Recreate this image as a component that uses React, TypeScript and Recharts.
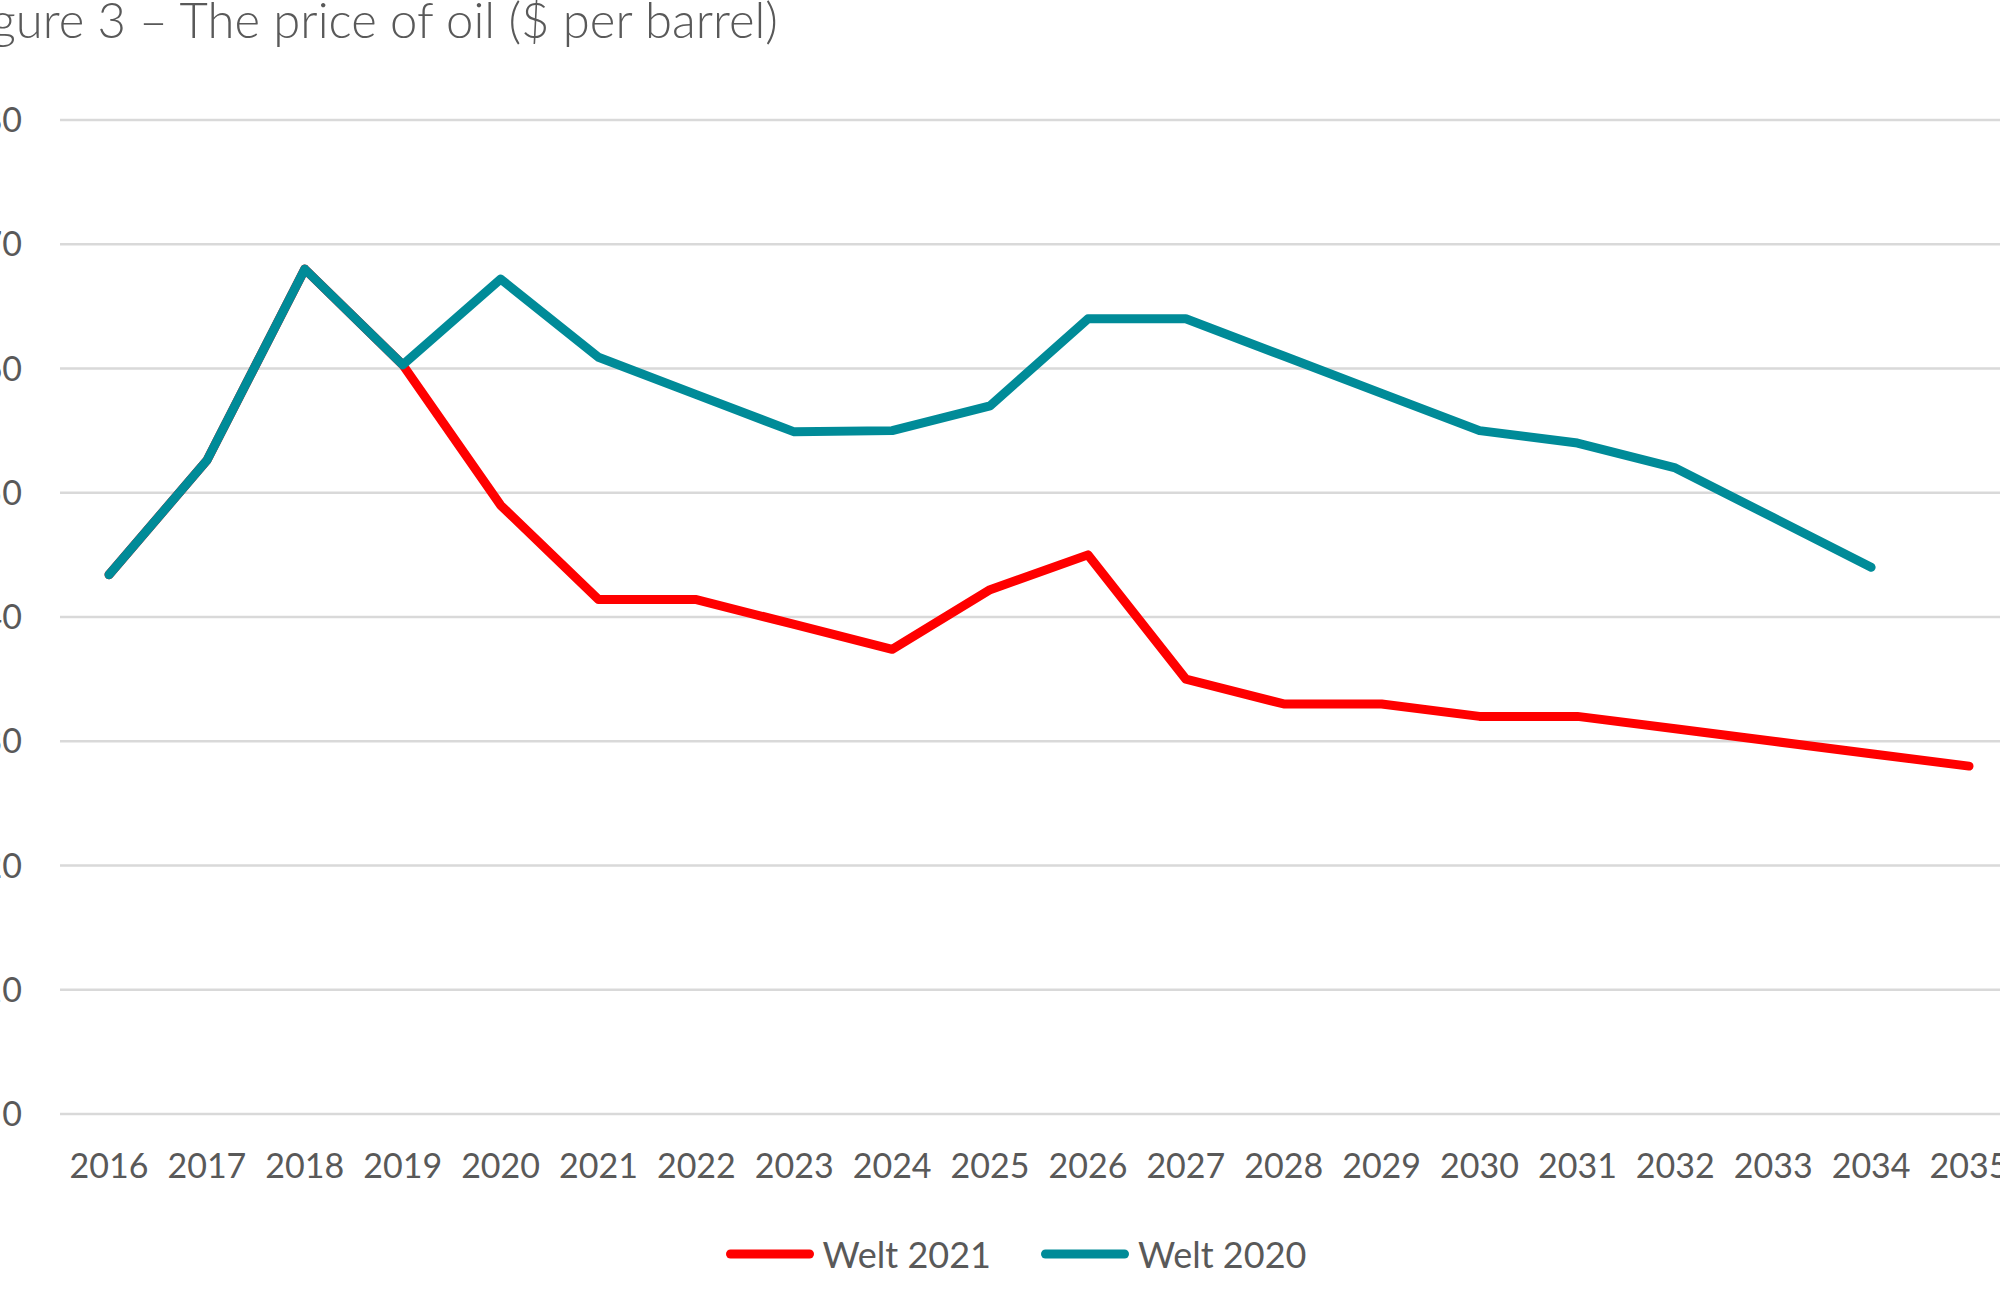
import React from 'react';
import { CartesianGrid, Legend, Line, LineChart, XAxis, YAxis } from 'recharts';

const years = [
  '2016', '2017', '2018', '2019', '2020', '2021', '2022', '2023', '2024', '2025',
  '2026', '2027', '2028', '2029', '2030', '2031', '2032', '2033', '2034', '2035',
];
const welt2021 = [43.4, 52.6, 68, 60.3, 49, 41.4, 41.4, 39.4, 37.4, 42.2, 45, 35, 33, 33, 32, 32, 31, 30, 29, 28];
const welt2020 = [43.4, 52.6, 68, 60.3, 67.2, 60.9, 57.9, 54.9, 55, 57, 64, 64, 61, 58, 55, 54, 52, 48, 44, null];
const seriesNames = ['Welt 2021', 'Welt 2020'];
const yTicks = [0, 10, 20, 30, 40, 50, 60, 70, 80];

const data = years.map((year, i) => ({ year, w21: welt2021[i], w20: welt2020[i] }));

const FONT = 'Lato, "Open Sans", sans-serif';
const TEXT = '#595959';

function LegendContent(props: any) {
  const items = props.payload || [];
  return (
    <div
      style={{
        display: 'flex',
        justifyContent: 'center',
        alignItems: 'center',
        height: 80,
        paddingLeft: 54,
        fontFamily: FONT,
        fontSize: 36,
        color: TEXT,
      }}
    >
      {items.map((p: any, i: number) => (
        <div key={p.value} style={{ display: 'flex', alignItems: 'center', marginLeft: i ? 50 : 0 }}>
          <svg width={88} height={14}>
            <line x1={4.5} y1={7} x2={83.5} y2={7} stroke={p.color} strokeWidth={9} strokeLinecap="round" />
          </svg>
          <span style={{ marginLeft: 9 }}>{p.value}</span>
        </div>
      ))}
    </div>
  );
}

export default function App() {
  return (
    <div
      style={{
        position: 'fixed',
        left: 0,
        top: 0,
        width: 2000,
        height: 1306,
        overflow: 'hidden',
        background: '#fff',
      }}
    >
      <div
        style={{
          position: 'absolute',
          right: 1222,
          top: -10,
          whiteSpace: 'nowrap',
          fontFamily: FONT,
          fontWeight: 300,
          fontSize: 49,
          color: TEXT,
        }}
      >
        Figure 3 – The price of oil ($ per barrel)
      </div>
      <div style={{ position: 'absolute', left: -40, top: 0 }}>
        <LineChart width={2058} height={1306} data={data} margin={{ top: 120, right: 0, left: 0, bottom: 12 }}>
          <CartesianGrid vertical={false} stroke="#d9d9d9" strokeWidth={2.5} />
          <XAxis
            dataKey="year"
            interval={0}
            axisLine={false}
            tickLine={false}
            tickSize={0}
            tickMargin={40}
            height={100}
            padding={{ left: 49, right: 49 }}
            tick={{ fill: TEXT, fontSize: 34, fontFamily: FONT }}
          />
          <YAxis
            domain={[0, 80]}
            ticks={yTicks}
            width={100}
            axisLine={false}
            tickLine={false}
            tickSize={30}
            tickMargin={8}
            tick={{ fill: TEXT, fontSize: 34, fontFamily: FONT }}
          />
          <Legend
            verticalAlign="bottom"
            height={80}
            itemSorter={(item: any) => seriesNames.indexOf(item.value)}
            content={<LegendContent />}
          />
          <Line
            dataKey="w21"
            name={seriesNames[0]}
            stroke="#ff0000"
            strokeWidth={9}
            strokeLinecap="round"
            strokeLinejoin="round"
            dot={false}
            activeDot={false}
            isAnimationActive={false}
          />
          <Line
            dataKey="w20"
            name={seriesNames[1]}
            stroke="#008b98"
            strokeWidth={9}
            strokeLinecap="round"
            strokeLinejoin="round"
            dot={false}
            activeDot={false}
            isAnimationActive={false}
          />
        </LineChart>
      </div>
    </div>
  );
}
